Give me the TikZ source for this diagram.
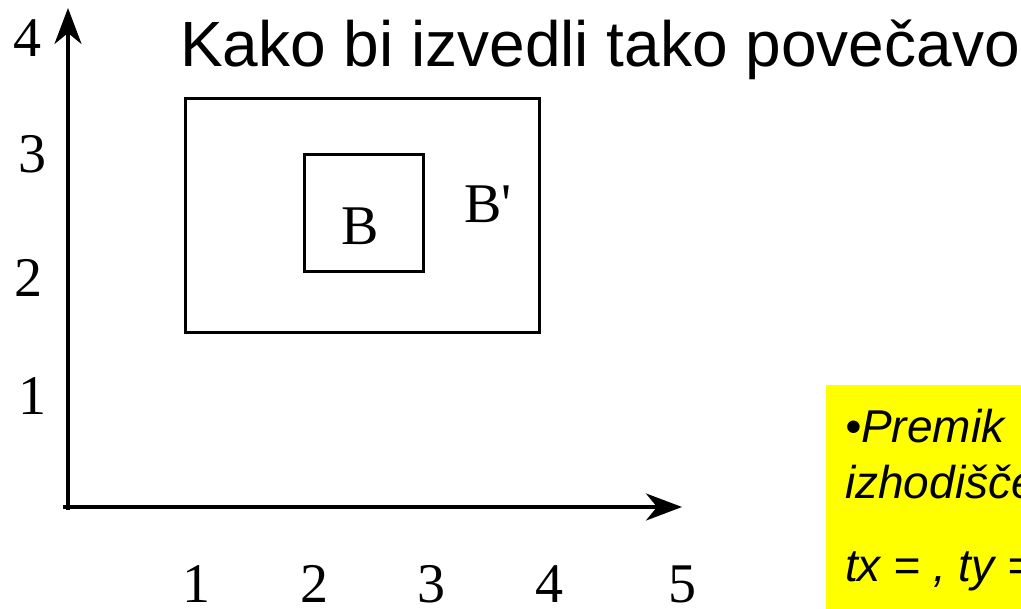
\documentclass[tikz,border=0pt]{standalone}
\usepackage{fontspec}
\setmainfont{Liberation Serif}
\newfontfamily\plainserif{Liberation Serif}
\newfontfamily\lsans{Liberation Sans}
\usetikzlibrary{arrows.meta}
\definecolor{noteyellow}{RGB}{255,255,0}
\begin{document}
\begin{tikzpicture}[x=1pt,y=-1pt,
  tick/.style={font=\plainserif\fontsize{56}{60}\selectfont, inner sep=0pt, anchor=base},
  axis/.style={line width=3.5pt, -{Stealth[length=36pt,width=27pt,inset=11pt]}},
  box/.style={draw, line width=3pt, inner sep=0pt},
  note/.style={font=\lsans\itshape\fontsize{46}{50}\selectfont, inner sep=0pt, anchor=base west},
  title/.style={font=\lsans\fontsize{64}{70}\selectfont, inner sep=0pt, anchor=base west}]
\useasboundingbox (0,0) rectangle (1021,609);
\clip (0,0) rectangle (1021,609);
\fill[white] (0,0) rectangle (1021,609);
% axes
\coordinate (ybot) at (68,510);
\coordinate (ytip) at (68,8);
\coordinate (xleft) at (63,507);
\coordinate (xtip) at (682,507);
\draw[axis] (ybot) -- (ytip);
\draw[axis] (xleft) -- (xtip);
% y ticks
\node[tick] (y4) at (27,57) {4};
\node[tick] (y3) at (32,173) {3};
\node[tick] (y2) at (29,297) {2};
\node[tick] (y1) at (33,415) {1};
% x ticks
\node[tick] (x1) at (196,602) {1};
\node[tick] (x2) at (314,602) {2};
\node[tick] (x3) at (431,602) {3};
\node[tick] (x4) at (549,602) {4};
\node[tick] (x5) at (682,602) {5};
% rectangles
\node[box, minimum width=354pt, minimum height=234pt] (Bp) at (362,216) {};
\node[box, minimum width=119pt, minimum height=117.5pt] (B) at (363.5,213) {};
\node[tick] (Blab) at (360,245) {B};
\node[tick, anchor=base west] (Bplab) at (464,223) {B'};
% title
\node[title] (ttl) at (180,67) {Kako bi izvedli tako povečavo};
% yellow note
\node[fill=noteyellow, anchor=north west, minimum width=230pt, minimum height=240pt, inner sep=0pt] (yel) at (826,385) {};
\node[note] (n1) at (845,443) {•Premik};
\node[note] (n2) at (845,499) {izhodišče};
\node[note] (n3) at (845,582) {tx = , ty =};
\end{tikzpicture}
\end{document}
